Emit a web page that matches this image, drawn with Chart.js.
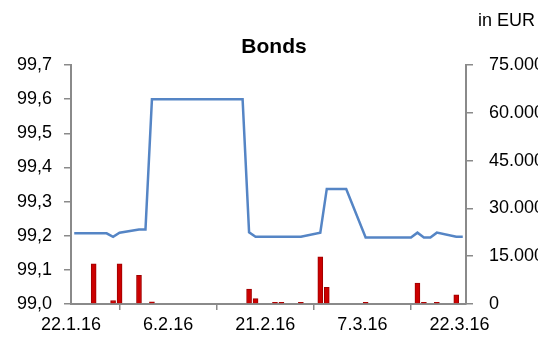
<!DOCTYPE html>
<html>
<head>
<meta charset="utf-8">
<title>Bonds</title>
<script src="https://cdn.jsdelivr.net/npm/chart.js@4/dist/chart.umd.min.js"></script>
<style>
  html, body { margin: 0; padding: 0; background: #ffffff; }
  #wrap { width: 538px; height: 342px; position: relative; }
</style>
</head>
<body>
<div id="wrap"><canvas id="chart" width="538" height="342"></canvas></div>
<script>
// First day shown on the date axis
const startDate = '2016-01-22';

// Daily closing price (left axis)
const priceDates = [
  '2016-01-22', '2016-01-25', '2016-01-26', '2016-01-27', '2016-01-28', '2016-01-29',
  '2016-02-01', '2016-02-02', '2016-02-03', '2016-02-04', '2016-02-05',
  '2016-02-08', '2016-02-09', '2016-02-10', '2016-02-11', '2016-02-12',
  '2016-02-15', '2016-02-16', '2016-02-17', '2016-02-18', '2016-02-19',
  '2016-02-22', '2016-02-23', '2016-02-24', '2016-02-25', '2016-02-26',
  '2016-02-29', '2016-03-01', '2016-03-02', '2016-03-03', '2016-03-04',
  '2016-03-07', '2016-03-08', '2016-03-09', '2016-03-10', '2016-03-11',
  '2016-03-14', '2016-03-15', '2016-03-16', '2016-03-17', '2016-03-18',
  '2016-03-21', '2016-03-22'
];
const priceValues = [
  99.207, 99.207, 99.207, 99.207, 99.197, 99.209,
  99.218, 99.218, 99.600, 99.600, 99.600,
  99.600, 99.600, 99.600, 99.600, 99.600,
  99.600, 99.600, 99.600, 99.210, 99.197,
  99.197, 99.197, 99.197, 99.197, 99.197,
  99.209, 99.337, 99.337, 99.337, 99.337,
  99.195, 99.195, 99.195, 99.195, 99.195,
  99.195, 99.209, 99.195, 99.195, 99.209,
  99.197, 99.197
];

// Traded volume in EUR (right axis)
const volumeDates = [
  '2016-01-25', '2016-01-28', '2016-01-29', '2016-02-01', '2016-02-03',
  '2016-02-18', '2016-02-19', '2016-02-22', '2016-02-23', '2016-02-26',
  '2016-02-29', '2016-03-01', '2016-03-07', '2016-03-15', '2016-03-16',
  '2016-03-18', '2016-03-21'
];
const volumeValues = [
  12600, 1100, 12600, 9000, 650,
  4700, 1700, 500, 500, 500,
  14800, 5200, 500, 6600, 500,
  500, 2900
];

// Axis ticks
const dateTickLabels = ['22.1.16', '6.2.16', '21.2.16', '7.3.16', '22.3.16'];
const dateTickStepDays = 15;
const priceTicks = [99.0, 99.1, 99.2, 99.3, 99.4, 99.5, 99.6, 99.7];
const volumeTicks = [0, 15000, 30000, 45000, 60000, 75000];

const FONT = "'Liberation Sans', Arial, sans-serif";
const AXIS_GREY = '#8a8a8a';

function dayOffset(iso) {
  const [y, m, d] = iso.split('-').map(Number);
  const [y0, m0, d0] = startDate.split('-').map(Number);
  return (Date.UTC(y, m - 1, d) - Date.UTC(y0, m0 - 1, d0)) / 86400000;
}
// each date occupies a one-day band; marks sit in the middle of it
const bandCentre = iso => dayOffset(iso) + 0.5;

function formatPrice(v) {
  return v.toFixed(1).replace('.', ',');
}
function formatVolume(v) {
  return String(Math.round(v)).replace(/\B(?=(\d{3})+(?!\d))/g, '.');
}

const headerText = {
  id: 'headerText',
  afterDraw(chart) {
    const ctx = chart.ctx;
    ctx.save();
    ctx.fillStyle = '#000000';
    ctx.textBaseline = 'middle';
    ctx.textAlign = 'center';
    ctx.font = 'bold 21px ' + FONT;
    ctx.fillText('Bonds', 274, 47);
    ctx.textAlign = 'left';
    ctx.font = '18px ' + FONT;
    ctx.fillText('in EUR', 478, 21);
    ctx.restore();
  }
};

const tickFont = { family: FONT, size: 18 };

new Chart(document.getElementById('chart').getContext('2d'), {
  type: 'line',
  data: {
    datasets: [
      {
        type: 'line',
        label: 'Kurs',
        yAxisID: 'y',
        data: priceDates.map((d, i) => ({ x: bandCentre(d), y: priceValues[i] })),
        borderColor: '#5585c5',
        borderWidth: 2.5,
        pointRadius: 0,
        tension: 0,
        fill: false,
        order: 0
      },
      {
        type: 'bar',
        label: 'Volumen',
        yAxisID: 'y1',
        data: volumeDates.map((d, i) => ({ x: bandCentre(d), y: volumeValues[i] })),
        backgroundColor: '#cc0000',
        borderColor: '#9e0000',
        borderWidth: 1,
        barThickness: 5,
        order: 1
      }
    ]
  },
  options: {
    responsive: false,
    animation: false,
    layout: { padding: { top: 65, left: 0, right: 0, bottom: 0 } },
    plugins: {
      legend: { display: false },
      tooltip: { enabled: false },
      title: { display: false }
    },
    scales: {
      x: {
        type: 'linear',
        min: 0,
        max: 61,
        offset: false,
        afterBuildTicks: s => {
          s.ticks = dateTickLabels.map((_, i) => ({ value: i * dateTickStepDays }));
        },
        ticks: {
          autoSkip: false,
          maxRotation: 0,
          minRotation: 0,
          color: '#000000',
          font: tickFont,
          padding: 4,
          callback: (v, i) => dateTickLabels[i]
        },
        grid: {
          drawOnChartArea: false,
          drawTicks: true,
          tickLength: 6,
          color: AXIS_GREY,
          lineWidth: 1.5
        },
        border: { display: true, color: AXIS_GREY, width: 2 },
        afterFit: s => { s.height = 38; }
      },
      y: {
        position: 'left',
        min: 99.0,
        max: 99.7,
        afterBuildTicks: s => {
          s.ticks = priceTicks.map(v => ({ value: v }));
        },
        ticks: {
          color: '#000000',
          font: tickFont,
          padding: 12,
          callback: v => formatPrice(v)
        },
        grid: {
          drawOnChartArea: false,
          drawTicks: true,
          tickLength: 7,
          color: AXIS_GREY,
          lineWidth: 1.5
        },
        border: { display: true, color: AXIS_GREY, width: 2 },
        afterFit: s => { s.width = 71; }
      },
      y1: {
        position: 'right',
        min: 0,
        max: 75000,
        afterBuildTicks: s => {
          s.ticks = volumeTicks.map(v => ({ value: v }));
        },
        ticks: {
          color: '#000000',
          font: tickFont,
          padding: 16,
          callback: v => formatVolume(v)
        },
        grid: {
          drawOnChartArea: false,
          drawTicks: true,
          tickLength: 7,
          color: AXIS_GREY,
          lineWidth: 1.5
        },
        border: { display: true, color: AXIS_GREY, width: 2 },
        afterFit: s => { s.width = 72; }
      }
    }
  },
  plugins: [headerText]
});
</script>
</body>
</html>
